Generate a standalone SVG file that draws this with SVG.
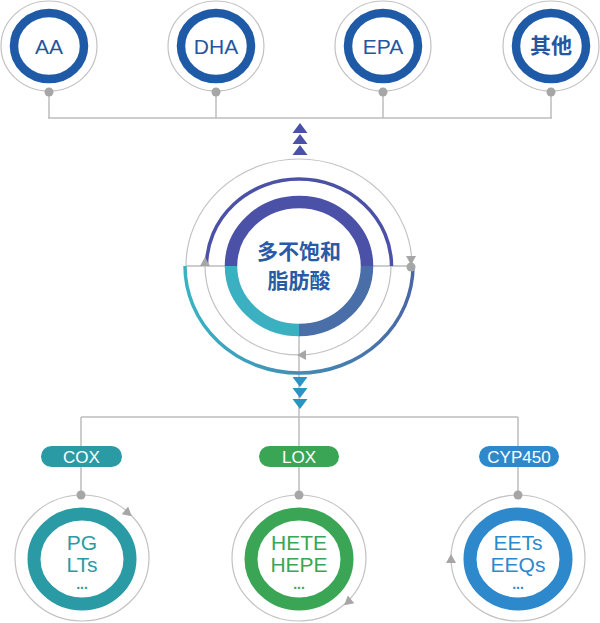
<svg xmlns="http://www.w3.org/2000/svg" width="600" height="623" viewBox="0 0 600 623">
<defs>
<style>
.thin{fill:none;stroke:#c2c2c2;stroke-width:1.2}
.conn{fill:none;stroke:#bdbdbd;stroke-width:1.5}
.dot{fill:#a6a6a6}
.arr{fill:#a6a6a6}
.topring{fill:none;stroke:#1f5aa7;stroke-width:8.5}
.toptxt{font-family:"Liberation Sans","Noto Sans CJK SC",sans-serif;font-size:21px;fill:#2556a0;text-anchor:middle}
.cjk{font-family:"Noto Sans CJK SC",sans-serif;font-weight:bold}
.pilltxt{font-family:"Liberation Sans",sans-serif;font-size:17px;fill:#fff;text-anchor:middle}
.btxt{font-family:"Liberation Sans",sans-serif;font-size:21px;text-anchor:middle}
.dots{font-family:"Liberation Sans",sans-serif;font-size:14px;font-weight:bold;text-anchor:middle}
</style>
<linearGradient id="og" gradientUnits="userSpaceOnUse" x1="185" y1="0" x2="413" y2="0">
<stop offset="0" stop-color="#39b3c3"/><stop offset="1" stop-color="#4a66a6"/>
</linearGradient>
<path id="tri" d="M5,0 L-4,-5 L-4,5 Z"/>
</defs>
<rect width="600" height="623" fill="#fff"/>

<g id="connectors">
<path class="conn" d="M49,92 V118 M216,92 V118 M383,92 V118 M551,92 V118 M48,118 H552"/>
<path class="conn" d="M186,266 H231 M367,266 H412"/>
<path class="conn" d="M299,330 V417 M81,417 H518 M81,417 V495 M299,417 V495 M518,417 V495"/>
<g fill="#4b51a6">
<path d="M300,123 L307.5,133 L292.5,133 Z"/>
<path d="M300,134 L307.5,144 L292.5,144 Z"/>
<path d="M300,145 L307.5,155 L292.5,155 Z"/>
</g>
<g fill="#2894c0">
<path d="M292.5,377 L307.5,377 L300,387 Z"/>
<path d="M292.5,388 L307.5,388 L300,398 Z"/>
<path d="M292.5,399 L307.5,399 L300,409 Z"/>
</g>
</g>

<g id="node-AA">
<ellipse class="thin" cx="49" cy="46" rx="48" ry="45"/>
<ellipse class="topring" cx="49" cy="46" rx="35" ry="33"/>
<circle class="dot" cx="49" cy="92" r="4.5"/>
<text class="toptxt" x="49" y="53.5">AA</text>
</g>
<g id="node-DHA">
<ellipse class="thin" cx="216" cy="46" rx="48" ry="45"/>
<ellipse class="topring" cx="216" cy="46" rx="35" ry="33"/>
<circle class="dot" cx="216" cy="92" r="4.5"/>
<text class="toptxt" x="216" y="53.5">DHA</text>
</g>
<g id="node-EPA">
<ellipse class="thin" cx="383" cy="46" rx="48" ry="45"/>
<ellipse class="topring" cx="383" cy="46" rx="35" ry="33"/>
<circle class="dot" cx="383" cy="92" r="4.5"/>
<text class="toptxt" x="383" y="53.5">EPA</text>
</g>
<g id="node-other">
<ellipse class="thin" cx="551" cy="46" rx="48" ry="45"/>
<ellipse class="topring" cx="551" cy="46" rx="35" ry="33"/>
<circle class="dot" cx="551" cy="92" r="4.5"/>
<text class="toptxt cjk" x="551" y="53" font-size="18">其他</text>
</g>

<g id="node-PUFA">
<path class="thin" d="M186,266 A113,107 0 0 1 412,266"/>
<path d="M185,266 A114,107 0 0 0 413,266" fill="none" stroke="url(#og)" stroke-width="3.5"/>
<path d="M206.5,266 A92.5,87 0 0 1 391.5,266" fill="none" stroke="#4b51a6" stroke-width="3.5"/>
<path class="thin" d="M205,266 A93,89 0 0 0 391,266"/>
<path d="M231,266 A68,64 0 0 1 367,266" fill="none" stroke="#4b51a6" stroke-width="12.5"/>
<path d="M231,266 A68,64 0 0 0 299,330" fill="none" stroke="#3ab0c1" stroke-width="12.5"/>
<path d="M299,330 A68,64 0 0 0 367,266" fill="none" stroke="#4a6fa8" stroke-width="12.5"/>
<use href="#tri" class="arr" transform="translate(411,260) rotate(90)"/>
<circle class="dot" cx="411" cy="267" r="4.5"/>
<use href="#tri" class="arr" transform="translate(205,262) rotate(-90)"/>
<use href="#tri" class="arr" transform="translate(302,355) rotate(180)"/>
<text class="cjk" x="299" y="259" font-size="21" fill="#2a5aa6" text-anchor="middle">多不饱和</text>
<text class="cjk" x="299" y="288" font-size="21" fill="#2a5aa6" text-anchor="middle">脂肪酸</text>
</g>

<g id="node-COX">
<rect x="41" y="446" width="81" height="21" rx="10.5" fill="#2a9aa5"/>
<text class="pilltxt" x="81.5" y="462.5">COX</text>
<ellipse class="thin" cx="82" cy="558" rx="67" ry="63"/>
<ellipse cx="82" cy="559" rx="48" ry="45" fill="none" stroke="#2a9aa5" stroke-width="13"/>
<circle class="dot" cx="81" cy="495" r="4.5"/>
<use href="#tri" class="arr" transform="translate(128,513) rotate(40)"/>
<text class="btxt" x="82" y="550" fill="#2a9aa5">PG</text>
<text class="btxt" x="82" y="572" fill="#2a9aa5">LTs</text>
<text class="dots" x="82" y="589" fill="#2a9aa5">...</text>
</g>

<g id="node-LOX">
<rect x="259" y="446" width="80" height="21" rx="10.5" fill="#3aa655"/>
<text class="pilltxt" x="299" y="462.5">LOX</text>
<ellipse class="thin" cx="299" cy="558" rx="67" ry="63"/>
<ellipse cx="299" cy="559" rx="48" ry="45" fill="none" stroke="#3aa655" stroke-width="13"/>
<circle class="dot" cx="299" cy="495" r="4.5"/>
<use href="#tri" class="arr" transform="translate(348,602) rotate(140)"/>
<text class="btxt" x="299" y="550" fill="#3aa655">HETE</text>
<text class="btxt" x="299" y="572" fill="#3aa655">HEPE</text>
<text class="dots" x="299" y="589" fill="#3aa655">...</text>
</g>

<g id="node-CYP450">
<rect x="479" y="446" width="80" height="21" rx="10.5" fill="#2d88cc"/>
<text class="pilltxt" x="519" y="462.5">CYP450</text>
<ellipse class="thin" cx="518" cy="558" rx="67" ry="63"/>
<ellipse cx="518" cy="559" rx="48" ry="45" fill="none" stroke="#2d88cc" stroke-width="13"/>
<circle class="dot" cx="518" cy="495" r="4.5"/>
<use href="#tri" class="arr" transform="translate(451,559) rotate(-90)"/>
<text class="btxt" x="518" y="550" fill="#2d88cc">EETs</text>
<text class="btxt" x="518" y="572" fill="#2d88cc">EEQs</text>
<text class="dots" x="518" y="589" fill="#2d88cc">...</text>
</g>
</svg>
